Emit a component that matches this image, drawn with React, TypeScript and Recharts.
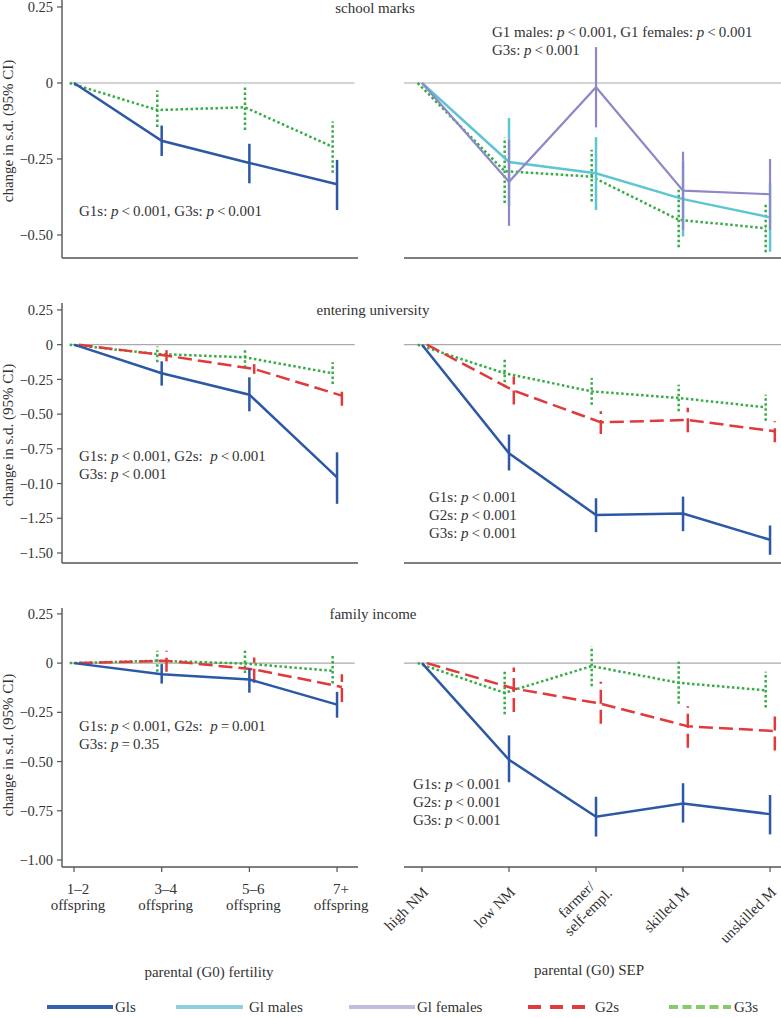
import React from 'react';
import { LineChart, Line, XAxis, YAxis, ErrorBar, ReferenceLine } from 'recharts';

// each point: [estimate, lower 95% CI, upper 95% CI]; the reference category has no interval
type Pt = number[];

const fertilityCats = ['1–2\noffspring', '3–4\noffspring', '5–6\noffspring', '7+\noffspring'];
const sepCats = ['high NM', 'low NM', 'farmer/\nself-empl.', 'skilled M', 'unskilled M'];

// school marks
const schoolFertG1s: Pt[] = [[0], [-0.19, -0.24, -0.14], [-0.263, -0.33, -0.2], [-0.333, -0.418, -0.253]];
const schoolFertG3s: Pt[] = [[0], [-0.089, -0.145, -0.025], [-0.08, -0.155, -0.007], [-0.21, -0.295, -0.127]];
const schoolSepG1m: Pt[] = [[0], [-0.26, -0.405, -0.115], [-0.297, -0.418, -0.178], [-0.382, -0.505, -0.26], [-0.442, -0.555, -0.33]];
const schoolSepG1f: Pt[] = [[0], [-0.325, -0.47, -0.187], [-0.014, -0.146, 0.118], [-0.354, -0.483, -0.226], [-0.366, -0.483, -0.25]];
const schoolSepG3s: Pt[] = [[0], [-0.29, -0.395, -0.18], [-0.308, -0.39, -0.22], [-0.45, -0.54, -0.345], [-0.478, -0.557, -0.4]];

// entering university
const uniFertG1s: Pt[] = [[0], [-0.206, -0.295, -0.12], [-0.36, -0.48, -0.235], [-0.955, -1.146, -0.775]];
const uniFertG2s: Pt[] = [[0], [-0.079, -0.12, -0.04], [-0.175, -0.21, -0.14], [-0.367, -0.44, -0.295]];
const uniFertG3s: Pt[] = [[0], [-0.067, -0.127, -0.013], [-0.091, -0.166, -0.022], [-0.206, -0.283, -0.127]];
const uniSepG1s: Pt[] = [[0], [-0.782, -0.906, -0.647], [-1.227, -1.35, -1.106], [-1.216, -1.343, -1.094], [-1.405, -1.513, -1.302]];
const uniSepG2s: Pt[] = [[0], [-0.331, -0.43, -0.23], [-0.559, -0.643, -0.48], [-0.542, -0.631, -0.455], [-0.624, -0.703, -0.552]];
const uniSepG3s: Pt[] = [[0], [-0.206, -0.307, -0.091], [-0.336, -0.432, -0.24], [-0.384, -0.48, -0.288], [-0.451, -0.547, -0.36]];

// family income
const incFertG1s: Pt[] = [[0], [-0.056, -0.104, -0.005], [-0.083, -0.15, -0.027], [-0.211, -0.277, -0.146]];
const incFertG2s: Pt[] = [[0], [0.012, -0.044, 0.063], [-0.032, -0.1, 0.029], [-0.121, -0.197, -0.056]];
const incFertG3s: Pt[] = [[0], [0.012, -0.044, 0.063], [-0.002, -0.05, 0.063], [-0.039, -0.104, 0.036]];
const incSepG1s: Pt[] = [[0], [-0.491, -0.605, -0.367], [-0.78, -0.881, -0.679], [-0.713, -0.81, -0.61], [-0.767, -0.87, -0.67]];
const incSepG2s: Pt[] = [[0], [-0.129, -0.248, -0.022], [-0.206, -0.308, -0.095], [-0.321, -0.43, -0.219], [-0.345, -0.444, -0.248]];
const incSepG3s: Pt[] = [[0], [-0.151, -0.26, -0.044], [-0.015, -0.117, 0.087], [-0.1, -0.206, 0.007], [-0.138, -0.226, -0.044]];

const topTicks = [0.25, 0, -0.25, -0.5];
const topTickLabels = ['0.25', '0', '−0.25', '−0.50'];
const midTicks = [0.25, 0, -0.25, -0.5, -0.75, -1, -1.25, -1.5];
const midTickLabels = ['0.25', '0', '−0.25', '−0.50', '−0.75', '−0.10', '−1.25', '−1.50'];
const botTicks = [0.25, 0, -0.25, -0.5, -0.75, -1];
const botTickLabels = ['0.25', '0', '−0.25', '−0.50', '−0.75', '−1.00'];

// test results: [group, relation, value]
const schoolFertStats = [[['G1s', '<', '0.001'], ['G3s', '<', '0.001']]];
const schoolSepStats = [[['G1 males', '<', '0.001'], ['G1 females', '<', '0.001']], [['G3s', '<', '0.001']]];
const uniFertStats = [[['G1s', '<', '0.001'], ['G2s: ', '<', '0.001']], [['G3s', '<', '0.001']]];
const uniSepStats = [[['G1s', '<', '0.001']], [['G2s', '<', '0.001']], [['G3s', '<', '0.001']]];
const incFertStats = [[['G1s', '<', '0.001'], ['G2s: ', '=', '0.001']], [['G3s', '=', '0.35']]];
const incSepStats = [[['G1s', '<', '0.001']], [['G2s', '<', '0.001']], [['G3s', '<', '0.001']]];

const legendNames = ['Gls', 'Gl males', 'Gl females', 'G2s', 'G3s'];

const FONT = '"Liberation Serif", "Times New Roman", serif';
const AXIS = '#555';
const TEXT = '#333';

const STYLE: Record<string, { color: string; width: number; dash?: string; dodge: number; legend: string }> = {
  g1s: { color: '#2c58a5', width: 2.5, dodge: 0, legend: '#3262aa' },
  g1m: { color: '#5ec6d3', width: 2.5, dodge: 0, legend: '#8fd0dc' },
  g1f: { color: '#8e88c6', width: 2.2, dodge: 0, legend: '#c0bcd9' },
  g2s: { color: '#e03a3a', width: 2.5, dash: '14 6', dodge: 0.055, legend: '#e23b3b' },
  g3s: { color: '#36ac45', width: 2.5, dash: '2.5 2.5', dodge: -0.05, legend: '#86ca6a' },
};

const toSeries = (pts: Pt[], dodge: number) =>
  pts.map((p, i) => ({
    x: i + dodge,
    y: p[0],
    err: p.length === 3 ? [p[0] - p[1], p[2] - p[0]] : undefined,
  }));

function FertTick({ x, y, payload }: any) {
  const lines = fertilityCats[payload.value].split('\n');
  return (
    <text x={x + 4} y={y} textAnchor="middle" fontFamily={FONT} fontSize={15} fill={TEXT}>
      {lines.map((l, i) => (
        <tspan key={i} x={x + 4} y={y + 20 + i * 16}>{l}</tspan>
      ))}
    </text>
  );
}

function SepTick({ x, y, payload }: any) {
  const lines = sepCats[payload.value].split('\n');
  if (lines.length === 1) {
    return (
      <g transform={`translate(${x + 7},${y + 19}) rotate(-45)`}>
        <text textAnchor="end" fontFamily={FONT} fontSize={15} fill={TEXT}>{lines[0]}</text>
      </g>
    );
  }
  return (
    <g transform={`translate(${x + 17},${y + 20}) rotate(-45)`}>
      <text x={-8} y={-17} textAnchor="end" fontFamily={FONT} fontSize={15} fill={TEXT}>{lines[0]}</text>
      <text x={0} y={0} textAnchor="end" fontFamily={FONT} fontSize={15} fill={TEXT}>{lines[1]}</text>
    </g>
  );
}

interface SeriesDef { key: string; pts: Pt[] }

interface PanelProps {
  side: 'left' | 'right';
  top: number;
  plotH: number;
  axisH: number;
  yDomain: [number, number];
  yTicks: number[];
  yLabels: string[];
  cats: string[];
  series: SeriesDef[];
  labels: boolean;
}

function Panel({ side, top, plotH, axisH, yDomain, yTicks, yLabels, cats, series, labels }: PanelProps) {
  const isLeft = side === 'left';
  const left = isLeft ? 0 : 404;
  const width = isLeft ? 358 : 377;
  const xDomain: [number, number] = isLeft ? [-0.137, 3.239] : [-0.207, 4.126];
  const xTicks = cats.map((_, i) => i);
  return (
    <div style={{ position: 'absolute', left, top }}>
      <LineChart width={width} height={plotH + axisH} margin={{ top: 0, right: 0, bottom: 0, left: 0 }} style={{ overflow: 'visible' }}>
        <XAxis
          dataKey="x"
          type="number"
          domain={xDomain}
          ticks={xTicks}
          interval={0}
          allowDataOverflow
          height={axisH}
          axisLine={{ stroke: AXIS, strokeWidth: 1.4 }}
          tickLine={{ stroke: AXIS, strokeWidth: 1.2 }}
          tickSize={5}
          tick={labels ? (isLeft ? <FertTick /> : <SepTick />) : false}
        />
        <YAxis
          type="number"
          domain={yDomain}
          ticks={yTicks}
          interval={0}
          allowDataOverflow
          hide={!isLeft}
          width={62}
          axisLine={{ stroke: AXIS, strokeWidth: 1.4 }}
          tickLine={{ stroke: AXIS, strokeWidth: 1.2 }}
          tickSize={5}
          tickMargin={4}
          tick={{ fontSize: 14.5, fill: TEXT, fontFamily: FONT }}
          tickFormatter={(v: number) => yLabels[yTicks.indexOf(v)] ?? String(v)}
        />
        {isLeft ? (
          <ReferenceLine segment={[{ x: -0.035, y: 0 }, { x: 3.2, y: 0 }]} stroke="#aaa" strokeWidth={1.2} />
        ) : (
          <ReferenceLine y={0} stroke="#aaa" strokeWidth={1.2} />
        )}
        {series.map((s) => {
          const st = STYLE[s.key];
          return (
            <Line
              key={s.key}
              data={toSeries(s.pts, st.dodge)}
              dataKey="y"
              type="linear"
              stroke={st.color}
              strokeWidth={st.width}
              strokeDasharray={st.dash}
              dot={false}
              activeDot={false}
              isAnimationActive={false}
            >
              <ErrorBar
                dataKey="err"
                direction="y"
                width={0}
                stroke={st.color}
                strokeWidth={st.width}
                strokeDasharray={st.dash}
                isAnimationActive={false}
              />
            </Line>
          );
        })}
      </LineChart>
    </div>
  );
}

function Stats({ x, y, lines }: { x: number; y: number; lines: string[][][] }) {
  return (
    <>
      {lines.map((line, li) => (
        <text key={li} x={x} y={y + li * 18} fontFamily={FONT} fontSize={15} fill={TEXT} style={{ whiteSpace: 'pre' }}>
          {line.map(([g, rel, val], i) => (
            <React.Fragment key={i}>
              <tspan>{(i > 0 ? ', ' : '') + g.replace(/:\s*$/, '') + (g.endsWith(' ') ? ':  ' : ': ')}</tspan>
              <tspan fontStyle="italic">p</tspan>
              <tspan>{'\u2009' + rel + '\u2009' + val}</tspan>
            </React.Fragment>
          ))}
        </text>
      ))}
    </>
  );
}

const legendKeys = ['g1s', 'g1m', 'g1f', 'g2s', 'g3s'];
const legendX = [[47, 113, 115], [176, 243, 249], [349, 415, 417], [528, 585, 595], [669, 731, 734]];
const legendDash = [undefined, undefined, undefined, '13 9', '9 4.5'];

export default function App() {
  const sch = { top: 0, plotH: 258, axisH: 10, yDomain: [-0.5757, 0.273] as [number, number], yTicks: topTicks, yLabels: topTickLabels, labels: false };
  const uni = { top: 303, plotH: 260, axisH: 10, yDomain: [-1.572, 0.3] as [number, number], yTicks: midTicks, yLabels: midTickLabels, labels: false };
  const inc = { top: 608, plotH: 259, axisH: 80, yDomain: [-1.0356, 0.28] as [number, number], yTicks: botTicks, yLabels: botTickLabels, labels: true };
  return (
    <div style={{ position: 'absolute', left: 0, top: 0, width: 781, height: 1018, background: '#fff', fontFamily: FONT }}>
      <style>{'.recharts-surface { overflow: visible; } .recharts-wrapper { overflow: visible; }'}</style>
      <Panel side="left" {...sch} cats={fertilityCats} series={[{ key: 'g3s', pts: schoolFertG3s }, { key: 'g1s', pts: schoolFertG1s }]} />
      <Panel side="right" {...sch} cats={sepCats} series={[{ key: 'g3s', pts: schoolSepG3s }, { key: 'g1m', pts: schoolSepG1m }, { key: 'g1f', pts: schoolSepG1f }]} />
      <Panel side="left" {...uni} cats={fertilityCats} series={[{ key: 'g3s', pts: uniFertG3s }, { key: 'g2s', pts: uniFertG2s }, { key: 'g1s', pts: uniFertG1s }]} />
      <Panel side="right" {...uni} cats={sepCats} series={[{ key: 'g3s', pts: uniSepG3s }, { key: 'g2s', pts: uniSepG2s }, { key: 'g1s', pts: uniSepG1s }]} />
      <Panel side="left" {...inc} cats={fertilityCats} series={[{ key: 'g3s', pts: incFertG3s }, { key: 'g2s', pts: incFertG2s }, { key: 'g1s', pts: incFertG1s }]} />
      <Panel side="right" {...inc} cats={sepCats} series={[{ key: 'g3s', pts: incSepG3s }, { key: 'g2s', pts: incSepG2s }, { key: 'g1s', pts: incSepG1s }]} />

      <svg width={781} height={1018} style={{ position: 'absolute', left: 0, top: 0, pointerEvents: 'none' }}>
        <g fontFamily={FONT} fontSize={15} fill={TEXT} textAnchor="middle">
          <text x={375} y={13}>school marks</text>
          <text x={373} y={315}>entering university</text>
          <text x={373} y={619}>family income</text>
          {[131, 435, 745].map((cy) => (
            <text key={cy} x={13} y={cy} transform={`rotate(-90 13 ${cy})`}>change in s.d. (95% CI)</text>
          ))}
          <text x={209} y={977}>parental (G0) fertility</text>
          <text x={589} y={975}>parental (G0) SEP</text>
        </g>

        <Stats x={79} y={216} lines={schoolFertStats} />
        <Stats x={492} y={37} lines={schoolSepStats} />
        <Stats x={79} y={461} lines={uniFertStats} />
        <Stats x={429} y={502} lines={uniSepStats} />
        <Stats x={79} y={731} lines={incFertStats} />
        <Stats x={413} y={789} lines={incSepStats} />

        {legendKeys.map((k, i) => {
          const [x1, x2, tx] = legendX[i];
          return (
            <g key={k}>
              <line x1={x1} x2={x2} y1={1007} y2={1007} stroke={STYLE[k].legend} strokeWidth={4} strokeDasharray={legendDash[i]} />
              <text x={tx} y={1012} fontFamily={FONT} fontSize={15} fill={TEXT}>{legendNames[i]}</text>
            </g>
          );
        })}
      </svg>
    </div>
  );
}
